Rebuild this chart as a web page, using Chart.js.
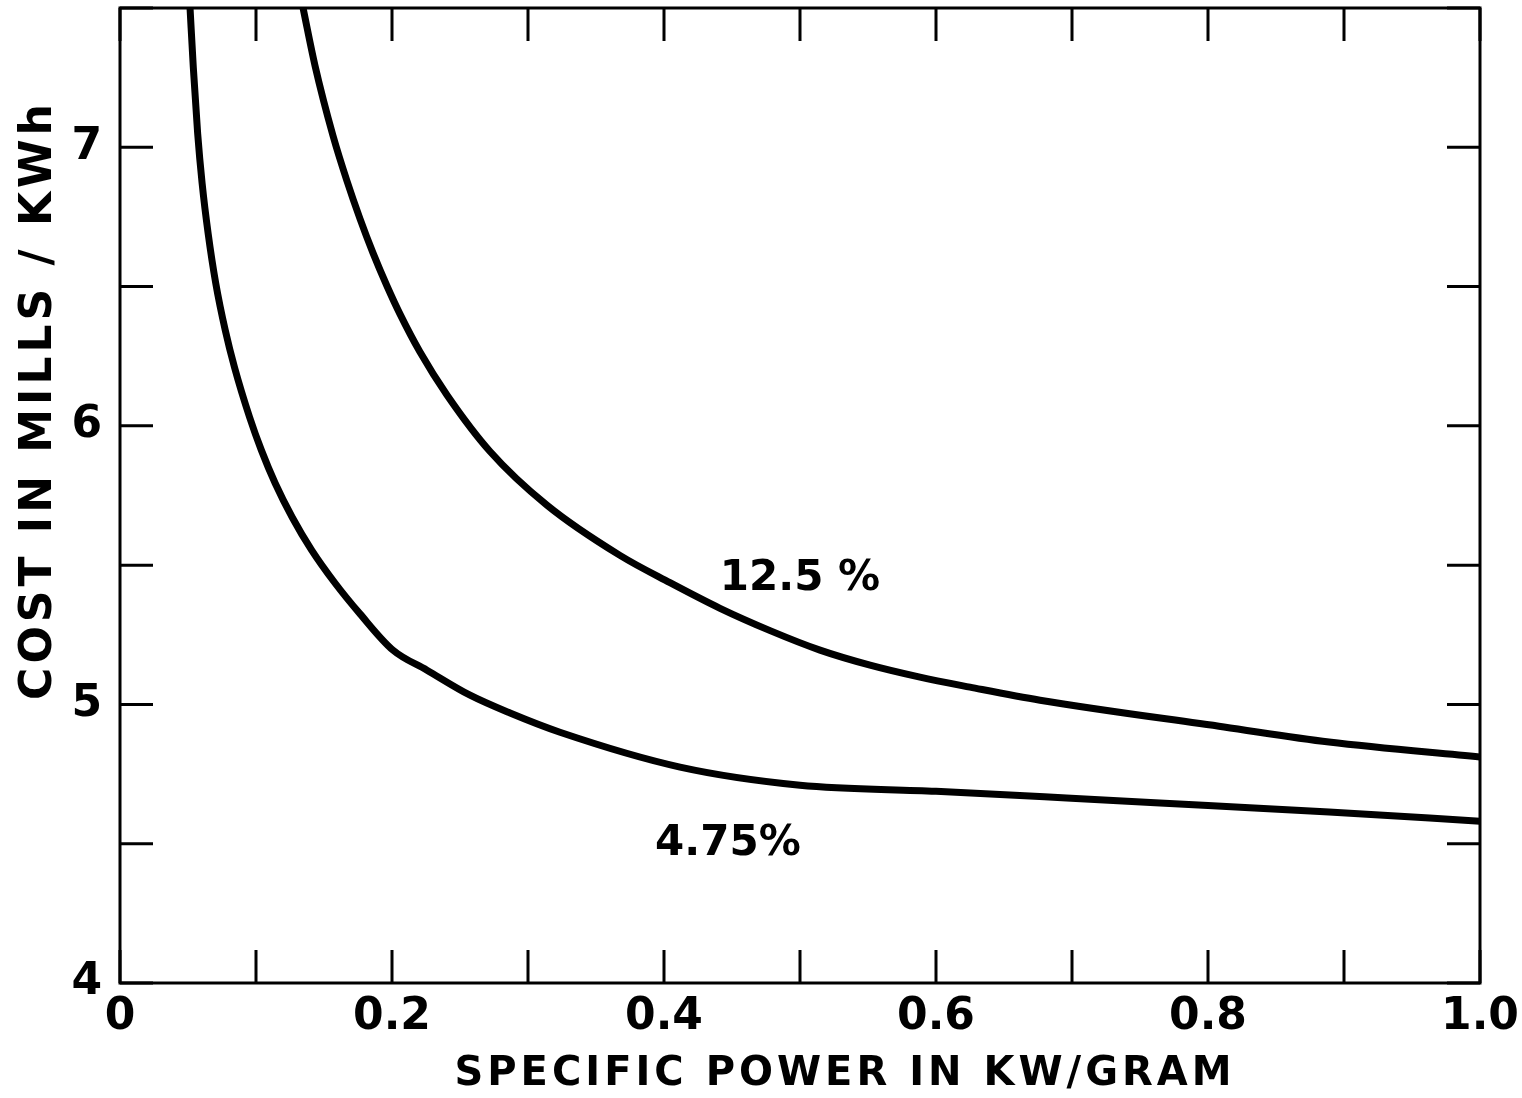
<!DOCTYPE html>
<html>
<head>
<meta charset="utf-8">
<title>Cost vs specific power</title>
<script src="https://cdn.jsdelivr.net/npm/chart.js@4.4.1/dist/chart.umd.min.js"></script>
<style>
	html, body { margin: 0; padding: 0; background: #fff; }
	.chart-box { width: 1522px; height: 1098px; }
</style>
</head>
<body>
<div class="chart-box"><canvas id="costChart"></canvas></div>
<script>
// values
const xTickLabels = ['0', '', '0.2', '', '0.4', '', '0.6', '', '0.8', '', '1.0'];
const yTickLabels = ['4', '', '5', '', '6', '', '7', ''];
const seriesNames = ['4.75%', '12.5 %'];

// 4.75 % curve
const lowX = [0.0515, 0.0539, 0.0571, 0.0604, 0.0648, 0.0704, 0.0774, 0.0842, 0.0953, 0.104, 0.1141, 0.1266, 0.1409, 0.1582, 0.1765, 0.2007, 0.2257, 0.2574, 0.2868, 0.3235, 0.4118, 0.5, 0.6, 0.696, 0.8, 0.889, 1.0];
const lowY = [7.5, 7.287, 7.05, 6.87, 6.691, 6.512, 6.343, 6.21, 6.031, 5.912, 5.794, 5.672, 5.554, 5.435, 5.325, 5.195, 5.123, 5.033, 4.969, 4.9, 4.775, 4.71, 4.688, 4.664, 4.637, 4.614, 4.581];

// 12.5 % curve
const highX = [0.1346, 0.1434, 0.1566, 0.1669, 0.1765, 0.186, 0.1963, 0.2059, 0.2206, 0.2404, 0.2721, 0.314, 0.3676, 0.4044, 0.4412, 0.478, 0.5147, 0.5515, 0.5882, 0.625, 0.6765, 0.8118, 0.889, 1.0];
const highY = [7.5, 7.293, 7.042, 6.879, 6.743, 6.621, 6.502, 6.401, 6.265, 6.111, 5.908, 5.715, 5.535, 5.437, 5.345, 5.265, 5.195, 5.141, 5.098, 5.062, 5.015, 4.919, 4.865, 4.811];

const FONT = '"DejaVu Sans", sans-serif';
const INK = '#000';

function toPoints(xs, ys) {
	return xs.map(function (x, i) { return { x: x, y: ys[i] }; });
}

// box, inward ticks, curve labels and axis titles
const frame = {
	id: 'frame',
	afterDraw: function (chart) {
		const ctx = chart.ctx, a = chart.chartArea;
		const sx = chart.scales.x, sy = chart.scales.y;
		ctx.save();
		ctx.strokeStyle = INK;
		ctx.lineWidth = 3;
		ctx.strokeRect(a.left, a.top, a.right - a.left, a.bottom - a.top);

		ctx.beginPath();
		sx.ticks.forEach(function (t) {
			const p = sx.getPixelForValue(t.value);
			ctx.moveTo(p, a.bottom); ctx.lineTo(p, a.bottom - 33);
			ctx.moveTo(p, a.top); ctx.lineTo(p, a.top + 33);
		});
		sy.ticks.forEach(function (t) {
			const p = sy.getPixelForValue(t.value);
			ctx.moveTo(a.left, p); ctx.lineTo(a.left + 33, p);
			ctx.moveTo(a.right, p); ctx.lineTo(a.right - 33, p);
		});
		ctx.stroke();

		ctx.fillStyle = INK;
		ctx.textAlign = 'center';
		ctx.textBaseline = 'middle';
		ctx.font = 'bold 42px ' + FONT;
		ctx.fillText(seriesNames[1], sx.getPixelForValue(0.5), sy.getPixelForValue(5.45));
		ctx.fillText(seriesNames[0], sx.getPixelForValue(0.447), sy.getPixelForValue(4.5));

		ctx.letterSpacing = '4px';
		ctx.font = 'bold 40px ' + FONT;
		ctx.fillText('SPECIFIC POWER IN KW/GRAM', 845, 1075);
		ctx.font = 'bold 44px ' + FONT;
		ctx.translate(40, 400);
		ctx.rotate(-Math.PI / 2);
		ctx.fillText('COST IN MILLS / KWh', 0, 0);
		ctx.restore();
	}
};

new Chart(document.getElementById('costChart'), {
	type: 'line',
	data: {
		datasets: [
			{ label: seriesNames[0], data: toPoints(lowX, lowY) },
			{ label: seriesNames[1], data: toPoints(highX, highY) }
		]
	},
	options: {
		responsive: true,
		maintainAspectRatio: false,
		animation: false,
		layout: { padding: { top: 8, right: 42, left: 0, bottom: 0 } },
		elements: {
			line: { borderColor: INK, borderWidth: 7, cubicInterpolationMode: 'monotone', fill: false },
			point: { radius: 0 }
		},
		plugins: {
			legend: { display: false },
			tooltip: { enabled: false }
		},
		scales: {
			x: {
				type: 'linear',
				min: 0,
				max: 1,
				grid: { display: false },
				border: { display: false },
				ticks: {
					stepSize: 0.1,
					autoSkip: false,
					maxRotation: 0,
					padding: 0,
					color: INK,
					font: { family: FONT, size: 44, weight: 'bold' },
					callback: function (v, i) { return xTickLabels[i]; }
				},
				afterFit: function (s) {
					s.height = 115;
					s.paddingLeft = 0;
					s.paddingRight = 0;
				}
			},
			y: {
				min: 4,
				max: 7.5,
				grid: { display: false },
				border: { display: false },
				ticks: {
					stepSize: 0.5,
					autoSkip: false,
					padding: 10,
					color: INK,
					font: { family: FONT, size: 44, weight: 'bold' },
					callback: function (v, i) { return yTickLabels[i]; }
				},
				afterFit: function (s) {
					s.width = 120;
					s.paddingTop = 0;
					s.paddingBottom = 0;
				}
			}
		}
	},
	plugins: [frame]
});
</script>
</body>
</html>
